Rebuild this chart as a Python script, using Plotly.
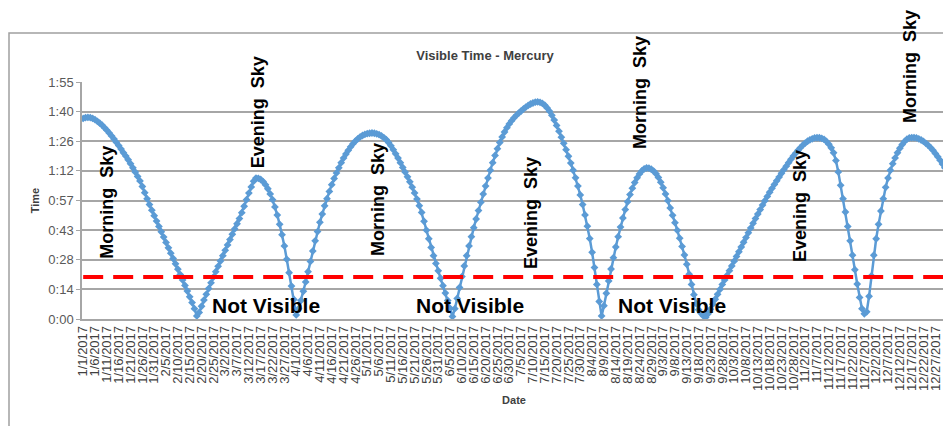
import pandas as pd
import plotly.graph_objects as go

# ---------------- data ----------------
# Daily visible time of Mercury in minutes (1 Jan 2017 .. 31 Dec 2017)
visible_minutes = [
    97.5, 97.9, 98.0, 97.9, 97.5, 96.9, 96.1, 95.2, 94.2, 93.0,
    91.8, 90.4, 89.0, 87.5, 85.9, 84.3, 82.6, 80.8, 79.2, 77.4,
    75.5, 73.5, 71.4, 69.3, 67.1, 64.4, 61.4, 58.4, 55.6, 52.9,
    50.2, 47.6, 45.0, 42.4, 39.8, 37.2, 34.6, 32.0, 29.4, 26.8,
    24.2, 21.6, 19.0, 16.3, 13.6, 10.8, 8.0, 5.0, 1.5, 3.2,
    6.2, 9.2, 12.0, 14.8, 17.6, 20.4, 23.0, 25.6, 28.2, 30.8,
    33.4, 36.0, 38.6, 41.2, 43.8, 46.3, 48.8, 51.7, 54.8, 58.0,
    61.2, 64.2, 67.0, 68.5, 68.4, 67.8, 66.8, 65.3, 63.3, 60.8,
    58.0, 54.5, 50.5, 46.0, 41.0, 35.5, 29.0, 22.5, 16.0, 9.5,
    2.0, 5.0, 9.0, 13.5, 18.0, 23.0, 28.0, 33.0, 38.0, 42.5,
    47.0, 51.0, 55.0, 58.5, 62.0, 65.3, 68.3, 71.0, 73.5, 76.0,
    78.2, 80.2, 82.0, 83.7, 85.2, 86.5, 87.6, 88.5, 89.2, 89.7,
    90.1, 90.3, 90.4, 90.3, 90.0, 89.6, 89.0, 88.2, 87.2, 85.8,
    84.2, 82.3, 80.3, 78.2, 76.0, 73.7, 71.4, 69.1, 66.7, 64.1,
    61.3, 58.3, 55.1, 51.8, 47.5, 43.2, 39.0, 34.8, 30.8, 27.0,
    23.4, 19.8, 16.2, 12.6, 9.0, 5.2, 1.2, 5.0, 10.0, 15.3,
    20.6, 25.8, 30.8, 35.5, 40.0, 44.4, 48.6, 52.7, 56.7, 60.7,
    64.6, 68.5, 72.3, 76.0, 79.5, 82.8, 85.8, 88.5, 90.9, 93.0,
    94.8, 96.4, 97.8, 99.0, 100.1, 101.1, 102.1, 103.0, 103.8, 104.5,
    105.0, 105.4, 105.5, 105.3, 104.8, 103.9, 102.6, 101.0, 99.0, 96.7,
    94.1, 91.3, 88.4, 85.4, 82.3, 79.1, 75.8, 72.3, 68.6, 64.6,
    60.3, 55.6, 50.6, 45.1, 39.1, 32.4, 25.0, 16.8, 8.5, 1.5,
    6.5, 12.5, 18.5, 24.3, 29.8, 35.0, 40.0, 44.7, 49.1, 53.2,
    57.0, 60.5, 63.6, 66.3, 68.6, 70.5, 72.0, 73.0, 73.4, 73.3,
    72.8, 71.9, 70.6, 68.8, 66.5, 63.8, 60.8, 57.5, 54.0, 50.4,
    46.8, 43.1, 39.3, 35.3, 31.1, 26.6, 21.8, 16.8, 11.8, 7.5,
    4.5, 2.8, 1.5, 0.8, 2.5, 4.8, 7.2, 9.6, 12.0, 14.4,
    16.8, 19.0, 21.2, 23.5, 25.8, 28.1, 30.4, 32.7, 35.0, 37.3,
    39.6, 41.9, 44.2, 46.5, 48.8, 51.0, 53.2, 55.4, 57.5, 59.6,
    61.6, 63.5, 65.4, 67.2, 69.0, 70.8, 72.6, 74.3, 76.0, 77.6,
    79.2, 80.6, 82.0, 83.3, 84.5, 85.5, 86.4, 87.1, 87.6, 88.0,
    88.1, 88.1, 87.8, 87.3, 86.3, 85.0, 83.2, 80.8, 77.0, 71.5,
    65.0, 58.5, 52.0, 45.0, 38.0, 31.0, 24.0, 17.0, 10.5, 5.0,
    2.5, 3.5, 11.0, 21.0, 31.0, 39.0, 46.0, 52.5, 58.5, 64.0,
    68.5, 72.3, 75.5, 78.3, 80.8, 83.0, 84.8, 86.3, 87.4, 88.0,
    88.2, 88.2, 88.0, 87.6, 87.0, 86.3, 85.4, 84.4, 83.3, 82.0,
    80.5, 78.9, 77.2, 75.4, 73.5,
]
dates = pd.date_range("2017-01-01", periods=len(visible_minutes), freq="D")

threshold_minutes = 20.4          # visibility limit (red dashed line)

# x tick labels: every 5th day
x_tick_dates = list(dates[::5])
x_tick_labels = [f"{d.month}/{d.day}/{d.year}" for d in x_tick_dates]

# y ticks (Excel time axis, major unit 0.01 day = 14.4 min)
y_tick_values = [0, 14.4, 28.8, 43.2, 57.6, 72.0, 86.4, 100.8, 115.2]
y_tick_labels = ["0:00", "0:14", "0:28", "0:43", "0:57", "1:12", "1:26", "1:40", "1:55"]
Y_MAX = 115.2

# text labels
sky_labels = ["Morning\u00a0 Sky", "Evening\u00a0 Sky", "Morning\u00a0 Sky", "Evening\u00a0 Sky",
              "Morning\u00a0 Sky", "Evening\u00a0 Sky", "Morning\u00a0 Sky"]
sky_label_dates = ["2017-01-11", "2017-03-15 22:00", "2017-05-05 12:00", "2017-07-09 05:00",
                   "2017-08-24 05:00", "2017-10-30 19:00", "2017-12-16 07:00"]
sky_label_minutes = [56.9, 100.6, 58.3, 51.5, 110.3, 54.9, 122.5]

nv_labels = ["Not Visible", "Not Visible", "Not Visible"]
nv_label_dates = ["2017-03-19 07:00", "2017-06-13 10:00", "2017-09-06 19:00"]
nv_label_minutes = [6.8, 6.8, 6.8]

# ---------------- figure ----------------
FONT = "Liberation Sans, Arial, sans-serif"
BLUE = "#5B9BD5"
GRID = "#a6a6a6"

fig = go.Figure()
fig.add_trace(go.Scatter(
    x=dates, y=visible_minutes, mode="lines+markers",
    line=dict(color=BLUE, width=2.5),
    marker=dict(symbol="diamond", size=6, color=BLUE),
    showlegend=False, hoverinfo="skip",
))
fig.add_trace(go.Scatter(
    x=[dates[0], dates[-1]], y=[threshold_minutes, threshold_minutes], mode="lines",
    line=dict(color="#ff0000", width=4, dash="20px,10px"),
    showlegend=False, hoverinfo="skip",
))

# y positions given in minutes, placed on the paper (so labels above the axis top stay visible)
for t, d, m in zip(sky_labels, sky_label_dates, sky_label_minutes):
    fig.add_annotation(x=d, xref="x", y=m / Y_MAX, yref="paper",
                       text=f"<b>{t}</b>", textangle=-90, showarrow=False,
                       xanchor="center", yanchor="middle",
                       font=dict(family=FONT, size=18, color="#000000"))
for t, d, m in zip(nv_labels, nv_label_dates, nv_label_minutes):
    fig.add_annotation(x=d, xref="x", y=m / Y_MAX, yref="paper",
                       text=f"<b>{t}</b>", showarrow=False,
                       xanchor="center", yanchor="middle",
                       font=dict(family=FONT, size=21, color="#000000"))

# page body has an 8px margin, so the figure is laid out 8px up/left of screen coords
OFF = 8
W, H = 951 - OFF, 426 - OFF
L, T = 82 - OFF, 82 - OFF
R = W - (946 - OFF)
B = H - (319 - OFF)
pw, ph = W - L - R, H - T - B

def px_x(p):
    return (p - OFF - L) / pw

def px_y(p):
    return (H - B - (p - OFF)) / ph

# outer chart-area border (top and left visible)
fig.add_shape(type="rect", xref="paper", yref="paper",
              x0=px_x(9), x1=px_x(975), y0=px_y(460), y1=px_y(33),
              line=dict(color="#a0a0a0", width=1.5), fillcolor="rgba(0,0,0,0)", layer="below")

fig.update_layout(
    width=W, height=H,
    margin=dict(l=L, r=R, t=T, b=B, autoexpand=False),
    paper_bgcolor="white", plot_bgcolor="white",
    font=dict(family=FONT, color="#404040"),
    title=dict(text="<b>Visible Time - Mercury</b>", xref="container", x=(485 - OFF) / W,
               yref="container", y=1 - (55 - OFF) / H, xanchor="center", yanchor="middle",
               font=dict(family=FONT, size=13, color="#404040")),
)
fig.update_xaxes(
    type="date", range=["2016-12-31 12:00", "2017-12-31 12:00"],
    tickmode="array", tickvals=x_tick_dates, ticktext=x_tick_labels, tickangle=-90,
    tickfont=dict(family=FONT, size=13, color="#404040"),
    showgrid=False, zeroline=False, showline=True, linecolor=GRID, linewidth=1.5,
    ticks="",
    title=dict(text="<b>Date</b>", standoff=6, font=dict(family=FONT, size=11, color="#404040")),
)
fig.update_yaxes(
    range=[0, Y_MAX], tickmode="array", tickvals=y_tick_values, ticktext=y_tick_labels,
    tickfont=dict(family=FONT, size=13, color="#595959"),
    showgrid=True, gridcolor=GRID, gridwidth=1.5, zeroline=False,
    showline=True, linecolor=GRID, linewidth=1.5, ticks="outside", ticklen=4, tickcolor=GRID,
    title=dict(text="<b>Time</b>", standoff=6, font=dict(family=FONT, size=11, color="#404040")),
)

fig.write_html("out.html")
